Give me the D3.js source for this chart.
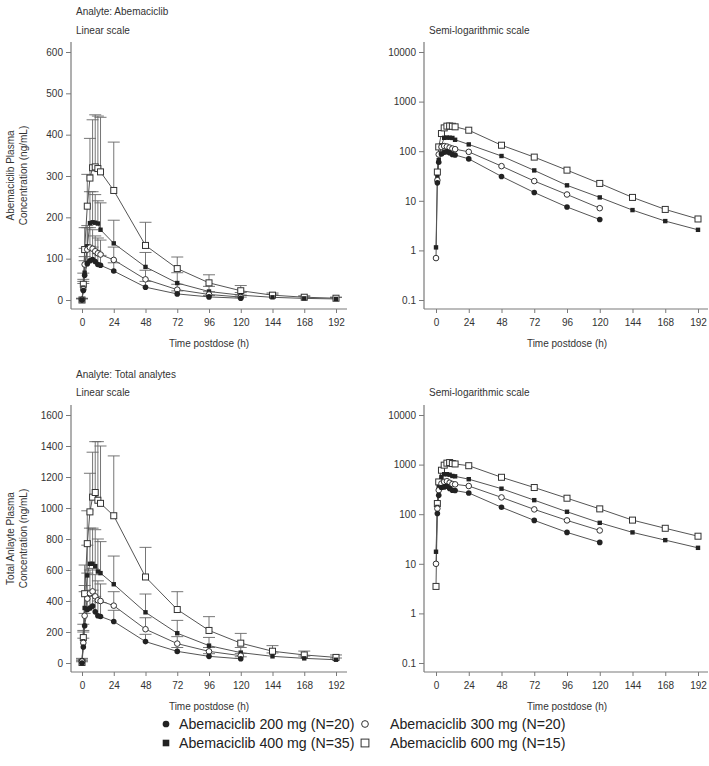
<!DOCTYPE html>
<html><head><meta charset="utf-8">
<script src="https://cdn.jsdelivr.net/npm/d3@7"></script>
<style>
html,body{margin:0;padding:0;background:#fff;}
svg{display:block;font-family:"Liberation Sans",Arial,sans-serif;}
</style></head>
<body><svg id="c" width="709" height="766"></svg>
<script>
// ---------------- DATA ----------------
const times = [0, 1, 2, 4, 6, 8, 10, 12, 14, 24, 48, 72, 96, 120, 144, 168, 192];
const xTicks = [0, 24, 48, 72, 96, 120, 144, 168, 192];
const yTicksAbemaLinear = [0, 100, 200, 300, 400, 500, 600];
const yTicksTotalLinear = [0, 200, 400, 600, 800, 1000, 1200, 1400, 1600];
const yTicksLog = [0.1, 1, 10, 100, 1000, 10000];
const seriesNames = ["Abemaciclib 200 mg (N=20)", "Abemaciclib 300 mg (N=20)", "Abemaciclib 400 mg (N=35)", "Abemaciclib 600 mg (N=15)"];

// Analyte: Abemaciclib - mean (ng/mL)
const abema200 = [0, 23, 60, 88, 95, 98, 93, 86, 84, 70, 31, 14.7, 7.5, 4.2, null, null, null];
const abema300 = [0.7, 26, 86, 122, 127, 124, 118, 113, 110, 97, 50, 25, 13.4, 7.1, null, null, null];
const abema400 = [1.15, 30, 66, 130, 186, 188, 187, 185, 170, 137, 80, 41, 20.5, 11.7, 6.5, 3.9, 2.6];
const abema600 = [0, 38, 122, 227, 295, 320, 322, 318, 310, 265, 132, 76, 41.5, 22.4, 11.7, 6.7, 4.3];
// Analyte: Abemaciclib - mean + SD
const abema200Upper = [3, 40, 95, 125, 130, 128, 120, 112, 108, 90, 45, 22, 11, 7, null, null, null];
const abema300Upper = [3, 45, 125, 175, 175, 170, 155, 150, 145, 128, 72, 38, 20, 12, null, null, null];
const abema400Upper = [4, 50, 105, 180, 262, 262, 255, 240, 235, 193, 115, 66, 33, 18, 14, 9, 6];
const abema600Upper = [4, 65, 175, 304, 391, 436, 448, 445, 442, 382, 188, 104, 61, 35, 17, 10, 7];

// Analyte: Total analytes - mean (ng/mL)
const total200 = [0, 103, 240, 345, 355, 367, 330, 305, 300, 268, 138, 75, 43, 27, null, null, null];
const total300 = [10, 130, 305, 415, 450, 462, 430, 405, 400, 370, 218, 125, 75, 47, null, null, null];
const total400 = [17.5, 140, 355, 565, 640, 640, 625, 590, 580, 508, 327, 192, 112, 67, 43, 30, 21];
const total600 = [3.5, 164, 447, 770, 975, 1070, 1100, 1050, 1030, 950, 555, 345, 210, 128, 76, 52, 36];
// Analyte: Total analytes - mean + SD
const total200Upper = [8, 160, 320, 440, 460, 470, 430, 400, 390, 340, 185, 100, 60, 40, null, null, null];
const total300Upper = [25, 200, 460, 580, 600, 610, 570, 530, 510, 460, 292, 170, 100, 62, null, null, null];
const total400Upper = [30, 210, 500, 760, 870, 870, 860, 800, 783, 690, 445, 275, 165, 100, 65, 45, 32];
const total600Upper = [15, 250, 632, 982, 1224, 1360, 1428, 1428, 1400, 1336, 746, 460, 299, 191, 112, 77, 52];

// ---------------- DRAW ----------------
const svg = d3.select("#c");
const FONT = 10;
const AXIS_COL = "#7a7a7a", TEXT_COL = "#333", LINE_COL = "#555", MARK_COL = "#222";

const abemaMeans = [abema200, abema300, abema400, abema600];
const abemaUppers = [abema200Upper, abema300Upper, abema400Upper, abema600Upper];
const totalMeans = [total200, total300, total400, total600];
const totalUppers = [total200Upper, total300Upper, total400Upper, total600Upper];

const markerStyles = [
  {shape: "circle", filled: true, size: 2.8},
  {shape: "circle", filled: false, size: 2.8},
  {shape: "square", filled: true, size: 4.4},
  {shape: "square", filled: false, size: 6}
];

function drawMarker(g, x, y, st, scale) {
  const s = st.size * (scale || 1);
  let m;
  if (st.shape === "circle") {
    m = g.append("circle").attr("cx", x).attr("cy", y).attr("r", s);
  } else {
    m = g.append("rect").attr("x", x - s / 2).attr("y", y - s / 2).attr("width", s).attr("height", s);
  }
  if (st.filled) m.attr("fill", MARK_COL).attr("stroke", "none");
  else m.attr("fill", "#fff").attr("stroke", "#333").attr("stroke-width", 1);
}

function panel(cfg) {
  const g = svg.append("g");
  const x = d3.scaleLinear().domain([0, 192]).range([cfg.x0, cfg.x1]);
  const y = cfg.log
    ? d3.scaleLog().domain([0.1, 10000]).range([cfg.yBottom, cfg.yTop])
    : d3.scaleLinear().domain([0, cfg.yMax]).range([cfg.yBottom, cfg.yTop]);

  g.append("line").attr("x1", cfg.axisX).attr("x2", cfg.axisX)
    .attr("y1", cfg.axisTop).attr("y2", cfg.axisY)
    .attr("stroke", AXIS_COL).attr("stroke-width", 1.2);
  g.append("line").attr("x1", cfg.axisX).attr("x2", cfg.axisXEnd)
    .attr("y1", cfg.axisY).attr("y2", cfg.axisY)
    .attr("stroke", AXIS_COL).attr("stroke-width", 1.2);

  const yAxis = d3.axisLeft(y).tickValues(cfg.yTicks).tickSize(5).tickPadding(3)
    .tickFormat(d => cfg.log ? (d < 1 ? "0.1" : d3.format("d")(d)) : d3.format("d")(d));
  const ya = g.append("g").attr("transform", `translate(${cfg.axisX},0)`).call(yAxis);
  ya.select(".domain").remove();
  ya.selectAll(".tick line").attr("stroke", AXIS_COL);
  ya.selectAll(".tick text").attr("fill", TEXT_COL).style("font-size", FONT + "px")
    .style("font-family", '"Liberation Sans",Arial,sans-serif');

  const xAxis = d3.axisBottom(x).tickValues(xTicks).tickSize(4).tickPadding(6);
  const xa = g.append("g").attr("transform", `translate(0,${cfg.axisY})`).call(xAxis);
  xa.select(".domain").remove();
  xa.selectAll(".tick line").attr("stroke", AXIS_COL);
  xa.selectAll(".tick text").attr("fill", TEXT_COL).style("font-size", FONT + "px")
    .style("font-family", '"Liberation Sans",Arial,sans-serif');

  g.append("text").attr("x", (cfg.x0 + cfg.x1) / 2).attr("y", cfg.axisY + 38)
    .attr("text-anchor", "middle").attr("fill", TEXT_COL).style("font-size", FONT + "px")
    .text("Time postdose (h)");

  if (cfg.analyte) {
    g.append("text").attr("x", cfg.titleX).attr("y", cfg.analyteY).attr("fill", TEXT_COL)
      .style("font-size", FONT + "px").text(cfg.analyte);
  }
  g.append("text").attr("x", cfg.titleX).attr("y", cfg.scaleY).attr("fill", TEXT_COL)
    .style("font-size", FONT + "px").text(cfg.scaleTitle);

  if (cfg.yTitle) {
    const cy = (cfg.axisTop + cfg.axisY) / 2;
    const t = g.append("text").attr("transform", `translate(${cfg.yTitleX},${cy}) rotate(-90)`)
      .attr("text-anchor", "middle").attr("fill", TEXT_COL).style("font-size", FONT + "px");
    t.append("tspan").attr("x", 0).attr("dy", 0).text(cfg.yTitle[0]);
    t.append("tspan").attr("x", 0).attr("dy", 12.5).text(cfg.yTitle[1]);
  }

  if (!cfg.log) {
    cfg.uppers.forEach((up, si) => {
      up.forEach((u, i) => {
        const m = cfg.means[si][i];
        if (u == null || m == null) return;
        const px = x(times[i]);
        g.append("line").attr("x1", px).attr("x2", px).attr("y1", y(m)).attr("y2", y(u))
          .attr("stroke", "#666").attr("stroke-width", 0.9);
        g.append("line").attr("x1", px - 6).attr("x2", px + 6).attr("y1", y(u)).attr("y2", y(u))
          .attr("stroke", "#666").attr("stroke-width", 0.9);
      });
    });
  }

  cfg.means.forEach((vals, si) => {
    const pts = times.map((t, i) => ({t, v: vals[i]}))
      .filter(d => d.v != null && (!cfg.log || d.v > 0));
    const line = d3.line().x(d => x(d.t)).y(d => y(d.v));
    g.append("path").datum(pts).attr("d", line).attr("fill", "none")
      .attr("stroke", LINE_COL).attr("stroke-width", 1);
  });
  [3, 2, 1, 0].forEach(si => {
    const vals = cfg.means[si];
    times.forEach((t, i) => {
      const v = vals[i];
      if (v == null || (cfg.log && v <= 0)) return;
      drawMarker(g, x(t), y(v), markerStyles[si]);
    });
  });
}

const leftGeom = {axisX: 71, axisXEnd: 347, x0: 82, x1: 336, titleX: 76, yTitleX: 14};
const rightGeom = {axisX: 424, axisXEnd: 708, x0: 436, x1: 698, titleX: 429};

panel(Object.assign({}, leftGeom, {
  log: false, yMax: 600, yTicks: yTicksAbemaLinear, yBottom: 300, yTop: 52,
  axisTop: 42, axisY: 309, analyte: "Analyte: Abemaciclib", analyteY: 15, scaleY: 34,
  scaleTitle: "Linear scale", yTitle: ["Abemaciclib Plasma", "Concentration (ng/mL)"],
  means: abemaMeans, uppers: abemaUppers
}));
panel(Object.assign({}, rightGeom, {
  log: true, yTicks: yTicksLog, yBottom: 300, yTop: 52,
  axisTop: 42, axisY: 309, scaleY: 34, scaleTitle: "Semi-logarithmic scale",
  means: abemaMeans, uppers: abemaUppers
}));
panel(Object.assign({}, leftGeom, {
  log: false, yMax: 1600, yTicks: yTicksTotalLinear, yBottom: 663, yTop: 415,
  axisTop: 405, axisY: 672, analyte: "Analyte: Total analytes", analyteY: 378, scaleY: 396,
  scaleTitle: "Linear scale", yTitle: ["Total Anlayte Plasma", "Concentration (ng/mL)"],
  means: totalMeans, uppers: totalUppers
}));
panel(Object.assign({}, rightGeom, {
  log: true, yTicks: yTicksLog, yBottom: 663, yTop: 415,
  axisTop: 405, axisY: 672, scaleY: 396, scaleTitle: "Semi-logarithmic scale",
  means: totalMeans, uppers: totalUppers
}));

const leg = svg.append("g");
const legPos = [[166, 724], [365, 724], [166, 743], [365, 743]];
seriesNames.forEach((name, si) => {
  const [lx, ly] = legPos[si];
  drawMarker(leg, lx, ly, markerStyles[si], si === 2 ? 1.5 : (si === 3 ? 1.3 : 1.2));
  leg.append("text").attr("x", lx + (si % 2 === 0 ? 13 : 25)).attr("y", ly + 5)
    .attr("fill", "#222").style("font-size", "14.2px").text(name);
});
</script>
</body></html>
